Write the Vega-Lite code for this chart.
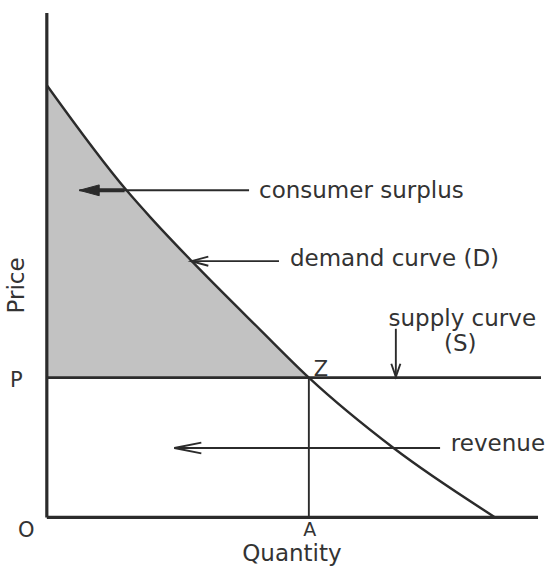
{
  "$schema": "https://vega.github.io/schema/vega-lite/v6.json",
  "width": 545,
  "height": 566,
  "autosize": {"type": "fit", "contains": "padding"},
  "padding": 0,
  "background": "white",
  "config": {"view": {"stroke": null}},
  "datasets": {
    "demand": [
      {"q": 0, "p": 154.61},
      {"q": 15.21, "p": 117.02},
      {"q": 19.9, "p": 107.09},
      {"q": 27.57, "p": 91.84},
      {"q": 40.82, "p": 66.92},
      {"q": 50, "p": 50},
      {"q": 66.16, "p": 24.82},
      {"q": 85.55, "p": 0}
    ],
    "segments": [
      {"kind": "axis", "q1": 0, "p1": 0, "q2": 0, "p2": 180.5},
      {"kind": "axis", "q1": 0, "p1": 0, "q2": 93.73, "p2": 0},
      {"kind": "supply", "q1": 0, "p1": 50, "q2": 94.3, "p2": 50},
      {"kind": "thin", "q1": 50, "p1": 0, "q2": 50, "p2": 50},
      {"kind": "thin", "q1": 6.2, "p1": 117.02, "q2": 38.59, "p2": 117.02},
      {"kind": "thin", "q1": 27.57, "p1": 91.67, "q2": 44.3, "p2": 91.67},
      {"kind": "thin", "q1": 24.33, "p1": 24.82, "q2": 75.04, "p2": 24.82},
      {"kind": "thin", "q1": 66.6, "p1": 67.48, "q2": 66.6, "p2": 50.3},
      {"kind": "thick", "q1": 8.5, "p1": 117.02, "q2": 14.83, "p2": 117.02}
    ],
    "heads": [
      {"kind": "filled", "q": 6.18, "p": 117.02},
      {"kind": "small", "q": 27.57, "p": 91.67},
      {"kind": "big", "q": 24.33, "p": 24.82},
      {"kind": "down", "q": 66.6, "p": 50.3}
    ],
    "labels": [
      {"kind": "left", "label": "consumer surplus", "q": 40.49, "p": 114.18},
      {"kind": "left", "label": "demand curve (D)", "q": 46.39, "p": 90.07},
      {"kind": "left", "label": "revenue", "q": 77.1, "p": 23.76},
      {"kind": "center", "label": "supply curve", "q": 79.28, "p": 68.44},
      {"kind": "center", "label": "(S)", "q": 78.9, "p": 59.57},
      {"kind": "center", "label": "Quantity", "q": 46.77, "p": -15.45},
      {"kind": "letterLeft", "label": "Z", "q": 50.95, "p": 50.71},
      {"kind": "letterLeft", "label": "P", "q": -7.03, "p": 46.81},
      {"kind": "letterLeft", "label": "O", "q": -5.51, "p": -7.1},
      {"kind": "letterCenter", "label": "A", "q": 50.19, "p": -6.75},
      {"kind": "rotated", "label": "Price", "q": -5.7, "p": 82.98}
    ]
  },
  "layer": [
    {
      "data": {"name": "demand"},
      "transform": [{"filter": "datum.q <= 50"}],
      "mark": {"type": "area", "interpolate": "monotone", "fill": "#c2c2c2", "opacity": 1},
      "encoding": {
        "x": {"field": "q", "type": "quantitative", "scale": {"domain": [-8.935, 94.68], "nice": false, "zero": false}, "axis": null},
        "y": {"field": "p", "type": "quantitative", "scale": {"domain": [-15.6, 185.11], "nice": false, "zero": false}, "axis": null},
        "y2": {"datum": 50}
      }
    },
    {
      "data": {"name": "demand"},
      "mark": {"type": "line", "interpolate": "monotone", "stroke": "#2b2b2b", "strokeWidth": 2.4},
      "encoding": {
        "x": {"field": "q", "type": "quantitative", "scale": {"domain": [-8.935, 94.68], "nice": false, "zero": false}, "axis": null},
        "y": {"field": "p", "type": "quantitative", "scale": {"domain": [-15.6, 185.11], "nice": false, "zero": false}, "axis": null}
      }
    },
    {
      "data": {"name": "segments"},
      "transform": [{"filter": "datum.kind === 'axis'"}],
      "mark": {"type": "rule", "stroke": "#2b2b2b", "strokeWidth": 3.2},
      "encoding": {
        "x": {"field": "q1", "type": "quantitative", "scale": {"domain": [-8.935, 94.68], "nice": false, "zero": false}, "axis": null},
        "x2": {"field": "q2"},
        "y": {"field": "p1", "type": "quantitative", "scale": {"domain": [-15.6, 185.11], "nice": false, "zero": false}, "axis": null},
        "y2": {"field": "p2"}
      }
    },
    {
      "data": {"name": "segments"},
      "transform": [{"filter": "datum.kind === 'supply'"}],
      "mark": {"type": "rule", "stroke": "#2b2b2b", "strokeWidth": 2.6},
      "encoding": {
        "x": {"field": "q1", "type": "quantitative", "scale": {"domain": [-8.935, 94.68], "nice": false, "zero": false}, "axis": null},
        "x2": {"field": "q2"},
        "y": {"field": "p1", "type": "quantitative", "scale": {"domain": [-15.6, 185.11], "nice": false, "zero": false}, "axis": null},
        "y2": {"field": "p2"}
      }
    },
    {
      "data": {"name": "segments"},
      "transform": [{"filter": "datum.kind === 'thin'"}],
      "mark": {"type": "rule", "stroke": "#2b2b2b", "strokeWidth": 1.9},
      "encoding": {
        "x": {"field": "q1", "type": "quantitative", "scale": {"domain": [-8.935, 94.68], "nice": false, "zero": false}, "axis": null},
        "x2": {"field": "q2"},
        "y": {"field": "p1", "type": "quantitative", "scale": {"domain": [-15.6, 185.11], "nice": false, "zero": false}, "axis": null},
        "y2": {"field": "p2"}
      }
    },
    {
      "data": {"name": "segments"},
      "transform": [{"filter": "datum.kind === 'thick'"}],
      "mark": {"type": "rule", "stroke": "#2b2b2b", "strokeWidth": 4},
      "encoding": {
        "x": {"field": "q1", "type": "quantitative", "scale": {"domain": [-8.935, 94.68], "nice": false, "zero": false}, "axis": null},
        "x2": {"field": "q2"},
        "y": {"field": "p1", "type": "quantitative", "scale": {"domain": [-15.6, 185.11], "nice": false, "zero": false}, "axis": null},
        "y2": {"field": "p2"}
      }
    },
    {
      "data": {"name": "heads"},
      "transform": [{"filter": "datum.kind === 'filled'"}],
      "mark": {"type": "point", "shape": "M0,0L1,-0.27L1,0.27Z", "filled": true, "fill": "#2b2b2b", "stroke": "#2b2b2b", "strokeWidth": 1, "size": 1600, "opacity": 1},
      "encoding": {
        "x": {"field": "q", "type": "quantitative", "scale": {"domain": [-8.935, 94.68], "nice": false, "zero": false}, "axis": null},
        "y": {"field": "p", "type": "quantitative", "scale": {"domain": [-15.6, 185.11], "nice": false, "zero": false}, "axis": null}
      }
    },
    {
      "data": {"name": "heads"},
      "transform": [{"filter": "datum.kind === 'small'"}],
      "mark": {"type": "point", "shape": "M1,-0.27L0,0L1,0.27", "filled": false, "stroke": "#2b2b2b", "strokeWidth": 1.9, "size": 1156, "opacity": 1},
      "encoding": {
        "x": {"field": "q", "type": "quantitative", "scale": {"domain": [-8.935, 94.68], "nice": false, "zero": false}, "axis": null},
        "y": {"field": "p", "type": "quantitative", "scale": {"domain": [-15.6, 185.11], "nice": false, "zero": false}, "axis": null}
      }
    },
    {
      "data": {"name": "heads"},
      "transform": [{"filter": "datum.kind === 'big'"}],
      "mark": {"type": "point", "shape": "M1,-0.2L0,0L1,0.2", "filled": false, "stroke": "#2b2b2b", "strokeWidth": 1.9, "size": 2916, "opacity": 1},
      "encoding": {
        "x": {"field": "q", "type": "quantitative", "scale": {"domain": [-8.935, 94.68], "nice": false, "zero": false}, "axis": null},
        "y": {"field": "p", "type": "quantitative", "scale": {"domain": [-15.6, 185.11], "nice": false, "zero": false}, "axis": null}
      }
    },
    {
      "data": {"name": "heads"},
      "transform": [{"filter": "datum.kind === 'down'"}],
      "mark": {"type": "point", "shape": "M-0.35,-1L0,0L0.35,-1", "filled": false, "stroke": "#2b2b2b", "strokeWidth": 1.9, "size": 676, "opacity": 1},
      "encoding": {
        "x": {"field": "q", "type": "quantitative", "scale": {"domain": [-8.935, 94.68], "nice": false, "zero": false}, "axis": null},
        "y": {"field": "p", "type": "quantitative", "scale": {"domain": [-15.6, 185.11], "nice": false, "zero": false}, "axis": null}
      }
    },
    {
      "data": {"name": "labels"},
      "transform": [{"filter": "datum.kind === 'left'"}],
      "mark": {"type": "text", "align": "left", "baseline": "alphabetic", "font": "DejaVu Sans", "fontSize": 23, "fill": "#333333"},
      "encoding": {
        "x": {"field": "q", "type": "quantitative", "scale": {"domain": [-8.935, 94.68], "nice": false, "zero": false}, "axis": null},
        "y": {"field": "p", "type": "quantitative", "scale": {"domain": [-15.6, 185.11], "nice": false, "zero": false}, "axis": null},
        "text": {"field": "label"}
      }
    },
    {
      "data": {"name": "labels"},
      "transform": [{"filter": "datum.kind === 'center'"}],
      "mark": {"type": "text", "align": "center", "baseline": "alphabetic", "font": "DejaVu Sans", "fontSize": 23, "fill": "#333333"},
      "encoding": {
        "x": {"field": "q", "type": "quantitative", "scale": {"domain": [-8.935, 94.68], "nice": false, "zero": false}, "axis": null},
        "y": {"field": "p", "type": "quantitative", "scale": {"domain": [-15.6, 185.11], "nice": false, "zero": false}, "axis": null},
        "text": {"field": "label"}
      }
    },
    {
      "data": {"name": "labels"},
      "transform": [{"filter": "datum.kind === 'letterLeft'"}],
      "mark": {"type": "text", "align": "left", "baseline": "alphabetic", "font": "DejaVu Sans", "fontSize": 21, "fill": "#333333"},
      "encoding": {
        "x": {"field": "q", "type": "quantitative", "scale": {"domain": [-8.935, 94.68], "nice": false, "zero": false}, "axis": null},
        "y": {"field": "p", "type": "quantitative", "scale": {"domain": [-15.6, 185.11], "nice": false, "zero": false}, "axis": null},
        "text": {"field": "label"}
      }
    },
    {
      "data": {"name": "labels"},
      "transform": [{"filter": "datum.kind === 'letterCenter'"}],
      "mark": {"type": "text", "align": "center", "baseline": "alphabetic", "font": "DejaVu Sans", "fontSize": 19, "fill": "#333333"},
      "encoding": {
        "x": {"field": "q", "type": "quantitative", "scale": {"domain": [-8.935, 94.68], "nice": false, "zero": false}, "axis": null},
        "y": {"field": "p", "type": "quantitative", "scale": {"domain": [-15.6, 185.11], "nice": false, "zero": false}, "axis": null},
        "text": {"field": "label"}
      }
    },
    {
      "data": {"name": "labels"},
      "transform": [{"filter": "datum.kind === 'rotated'"}],
      "mark": {"type": "text", "align": "center", "baseline": "middle", "angle": 270, "font": "DejaVu Sans", "fontSize": 23, "fill": "#333333"},
      "encoding": {
        "x": {"field": "q", "type": "quantitative", "scale": {"domain": [-8.935, 94.68], "nice": false, "zero": false}, "axis": null},
        "y": {"field": "p", "type": "quantitative", "scale": {"domain": [-15.6, 185.11], "nice": false, "zero": false}, "axis": null},
        "text": {"field": "label"}
      }
    }
  ]
}
